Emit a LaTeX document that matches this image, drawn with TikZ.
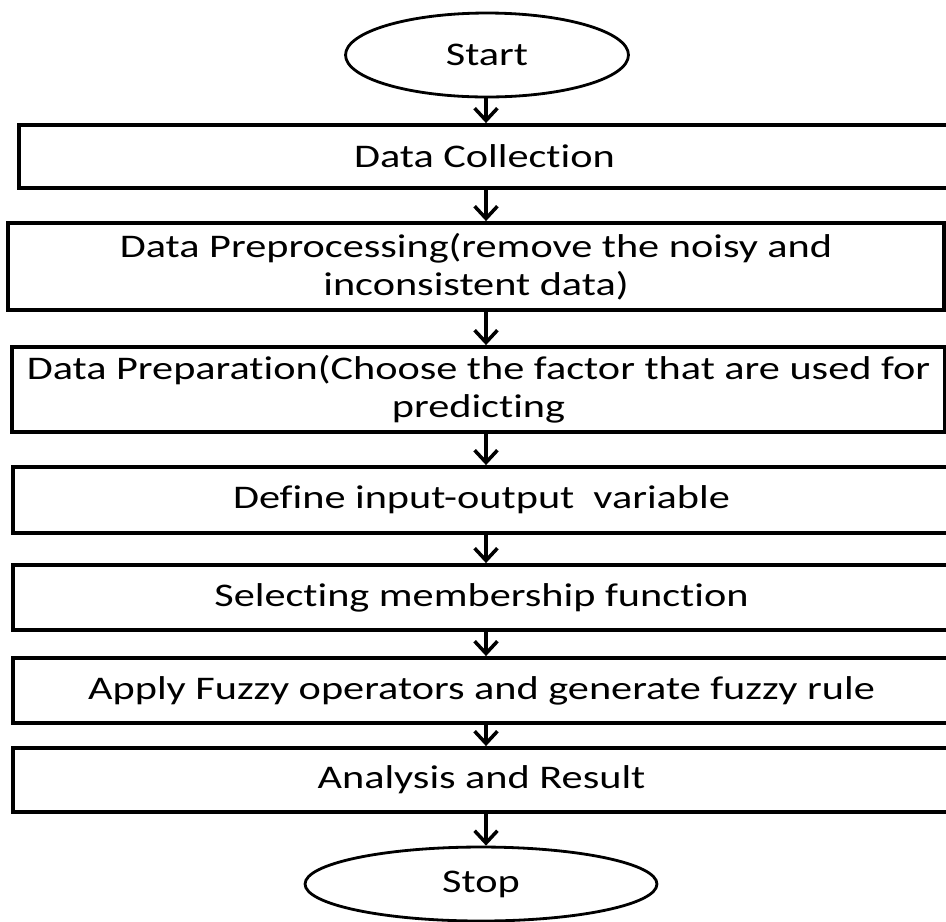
\documentclass[tikz,border=0pt]{standalone}
\usepackage{fontspec}
\setmainfont{Carlito}[FakeStretch=1.28, Ligatures=NoCommon]
\usetikzlibrary{arrows.meta, positioning, shapes.geometric}

\begin{document}
\begin{tikzpicture}[x=0.02cm, y=-0.02cm,
		term/.style={draw, ellipse, line width=1.6pt, inner sep=0pt,
			font=\fontsize{18.8}{21.5}\selectfont},
		stepbox/.style={draw, line width=2.2pt, inner sep=0pt, align=center,
			font=\fontsize{18.8}{21.5}\selectfont},
		flow/.style={-{Straight Barb[length=7pt, width=13pt, line width=2pt]},
			line width=2pt}
	]
	\useasboundingbox (0,0) rectangle (946,921);

	% terminals
	\node[term, minimum width=5.66cm, minimum height=1.68cm] (start) at (487,55) {Start};
	\node[term, minimum width=7.04cm, minimum height=1.48cm] (stop) at (481,884) {Stop};

	% process steps, top to bottom
	\node[stepbox, minimum width=18.62cm, minimum height=1.26cm] (collect) at (484.5,156.5)
		{Data Collection};
	\node[stepbox, minimum width=18.72cm, minimum height=1.74cm] (preproc) at (476,266.5)
		{Data Preprocessing(remove the noisy and\\inconsistent data)};
	\node[stepbox, minimum width=18.66cm, minimum height=1.70cm] (prep) at (478.5,389.5)
		{Data Preparation(Choose the factor that are used for\\predicting};
	\node[stepbox, minimum width=18.74cm, minimum height=1.32cm] (vars) at (481.5,500)
		{Define input-output\ \ variable};
	\node[stepbox, minimum width=18.74cm, minimum height=1.30cm] (member) at (481.5,597.5)
		{Selecting membership function};
	\node[stepbox, minimum width=18.74cm, minimum height=1.30cm] (rules) at (481.5,690.5)
		{Apply Fuzzy operators and generate fuzzy rule};
	\node[stepbox, minimum width=18.74cm, minimum height=1.28cm] (result) at (481.5,780)
		{Analysis and Result};

	% all arrows run down one vertical line
	\coordinate (axis) at (486,0);
	\foreach \a/\b in {start/collect, collect/preproc, preproc/prep, prep/vars,
		vars/member, member/rules, rules/result, result/stop}
		\draw[flow] (\a.south -| axis) -- (\b.north -| axis);
\end{tikzpicture}
\end{document}
